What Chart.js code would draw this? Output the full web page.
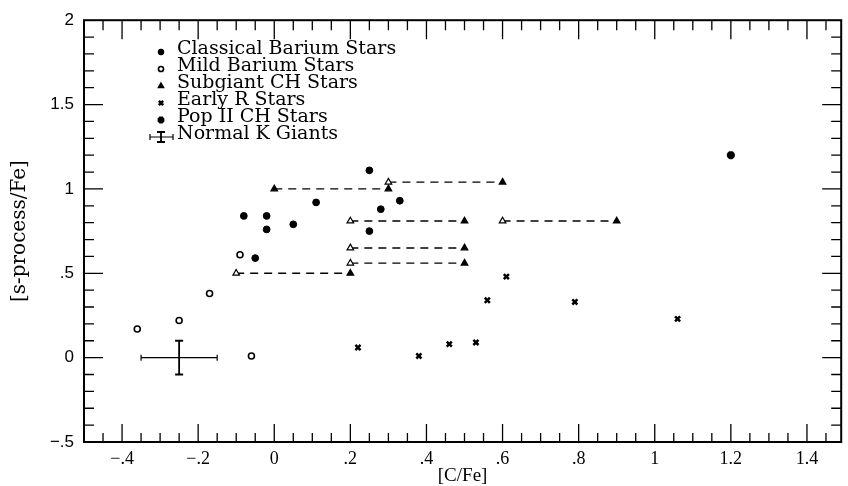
<!DOCTYPE html>
<html>
<head>
<meta charset="utf-8">
<script src="https://cdn.jsdelivr.net/npm/chart.js@4.4.0/dist/chart.umd.min.js"></script>
<style>
html, body { margin: 0; padding: 0; background: #fff; }
#wrap { width: 848px; height: 486px; }
</style>
</head>
<body>
<div id="wrap"><canvas id="myChart"></canvas></div>
<script>
// values: [C/Fe], [s-process/Fe]
var classicalBarium = [[0.25, 1.11], [0.11, 0.92], [0.33, 0.93], [0.28, 0.88], [-0.08, 0.84],
                       [-0.02, 0.84], [-0.02, 0.76], [0.05, 0.79], [0.25, 0.75], [-0.05, 0.59]];
var mildBarium = [[-0.09, 0.61], [-0.36, 0.17], [-0.25, 0.22], [-0.17, 0.38], [-0.06, 0.01]];
var earlyR = [[0.61, 0.48], [0.56, 0.34], [0.79, 0.33], [1.06, 0.23],
              [0.22, 0.06], [0.38, 0.01], [0.46, 0.08], [0.53, 0.09]];
var popIICH = [[1.20, 1.20]];

// subgiant CH stars: two [C/Fe] estimates joined by a dashed line
var subgiantLeftX   = [0.30, 0.00, 0.20, 0.60, 0.20, 0.20, -0.10];
var subgiantRightX  = [0.60, 0.30, 0.50, 0.90, 0.50, 0.50, 0.20];
var subgiantY       = [1.04, 1.00, 0.81, 0.81, 0.65, 0.56, 0.50];
var subgiantLeftFilled = [false, true, false, false, false, false, false];

// normal K giants: mean and error bar
var normalK    = [-0.25, 0.00];
var normalKErr = [0.10, 0.10];

var legendLabels = ['Classical Barium Stars', 'Mild Barium Stars', 'Subgiant CH Stars',
                    'Early R Stars', 'Pop II CH Stars', 'Normal K Giants'];

var xTickValues = [-0.4, -0.2, 0, 0.2, 0.4, 0.6, 0.8, 1, 1.2, 1.4];
var xTickLabels = ['\u2212.4', '\u2212.2', '0', '.2', '.4', '.6', '.8', '1', '1.2', '1.4'];
var yTickValues = [-0.5, 0, 0.5, 1, 1.5, 2];
var yTickLabels = ['\u2212.5', '0', '.5', '1', '1.5', '2'];

function toPoints(arr) {
    return arr.map(function(p) { return { x: p[0], y: p[1] }; });
}

var markerStyles = [
    { pointStyle: 'circle',   radius: 3.4, borderWidth: 1,   fill: '#000' },
    { pointStyle: 'circle',   radius: 3.0, borderWidth: 1.6, fill: '#fff' },
    { pointStyle: 'triangle', radius: 3.8, borderWidth: 1.2, fill: '#000' },
    { pointStyle: 'crossRot', radius: 3.6, borderWidth: 2.5, fill: '#000' },
    { pointStyle: 'star',     radius: 4.0, borderWidth: 2.8, fill: '#000' }
];

var datasets = [];

for (var i = 0; i < subgiantY.length; i++) {
    datasets.push({
        label: 'subgiant' + i,
        data: [{ x: subgiantLeftX[i], y: subgiantY[i] }, { x: subgiantRightX[i], y: subgiantY[i] }],
        showLine: true,
        borderColor: '#000',
        borderWidth: 1.4,
        borderDash: [8, 6],
        pointStyle: 'triangle',
        pointRadius: markerStyles[2].radius,
        pointBorderWidth: markerStyles[2].borderWidth,
        pointBorderColor: '#000',
        pointBackgroundColor: [subgiantLeftFilled[i] ? '#000' : '#fff', '#000']
    });
}

var pointSets = [classicalBarium, mildBarium, null, earlyR, popIICH];
pointSets.forEach(function(set, k) {
    if (!set) return;
    var m = markerStyles[k];
    datasets.push({
        label: legendLabels[k],
        data: toPoints(set),
        showLine: false,
        pointStyle: m.pointStyle,
        pointRadius: m.radius,
        pointBorderWidth: m.borderWidth,
        pointBorderColor: '#000',
        pointBackgroundColor: m.fill
    });
});

var frameAndExtras = {
    id: 'frameAndExtras',
    afterDatasetsDraw: function(chart) {
        var ctx = chart.ctx;
        var a = chart.chartArea;
        var xs = chart.scales.x, ys = chart.scales.y;
        ctx.save();
        ctx.strokeStyle = '#000';
        ctx.fillStyle = '#000';

        // frame
        ctx.lineWidth = 2;
        ctx.strokeRect(a.left, a.top, a.right - a.left, a.bottom - a.top);

        // ticks on all four sides, pointing inward
        ctx.lineWidth = 1.3;
        ctx.beginPath();
        var v, px, big;
        for (v = -0.45; v < 1.49; v += 0.05) {
            px = xs.getPixelForValue(v);
            big = Math.abs(Math.round(v * 5) - v * 5) < 1e-6;
            ctx.moveTo(px, a.bottom); ctx.lineTo(px, a.bottom - (big ? 18 : 9));
            ctx.moveTo(px, a.top);    ctx.lineTo(px, a.top + (big ? 19 : 10));
        }
        for (v = -0.4; v < 2; v += 0.1) {
            px = ys.getPixelForValue(v);
            big = Math.abs(Math.round(v * 2) - v * 2) < 1e-6;
            ctx.moveTo(a.left, px);  ctx.lineTo(a.left + (big ? 19 : 10), px);
            ctx.moveTo(a.right, px); ctx.lineTo(a.right - (big ? 19 : 10), px);
        }
        ctx.stroke();

        // normal K giants error cross
        var cx = xs.getPixelForValue(normalK[0]), cy = ys.getPixelForValue(normalK[1]);
        var x0 = xs.getPixelForValue(normalK[0] - normalKErr[0]);
        var x1 = xs.getPixelForValue(normalK[0] + normalKErr[0]);
        var y0 = ys.getPixelForValue(normalK[1] + normalKErr[1]);
        var y1 = ys.getPixelForValue(normalK[1] - normalKErr[1]);
        drawErrorCross(ctx, cx, cy, x0, x1, y0, y1);

        // legend
        var mx = 161, tx = 177, ty = 49, step = 17;
        ctx.font = '19px "DejaVu Serif"';
        ctx.textBaseline = 'middle';
        ctx.textAlign = 'left';
        for (var k = 0; k < legendLabels.length; k++) {
            var yy = ty + k * step;
            if (k < markerStyles.length) {
                var m = markerStyles[k];
                ctx.fillStyle = m.fill;
                ctx.strokeStyle = '#000';
                ctx.lineWidth = m.borderWidth;
                Chart.helpers.drawPoint(ctx, {
                    pointStyle: m.pointStyle, radius: m.radius * 0.85,
                    borderWidth: m.borderWidth, rotation: 0
                }, mx, yy + 3);
            } else {
                drawErrorCross(ctx, mx, yy + 3, mx - 11, mx + 12, yy - 2, yy + 8);
            }
            ctx.fillStyle = '#000';
            ctx.fillText(legendLabels[k], tx, yy);
        }
        ctx.restore();
    }
};

function drawErrorCross(ctx, cx, cy, x0, x1, y0, y1) {
    ctx.strokeStyle = '#000';
    ctx.beginPath();
    ctx.lineWidth = 1.2;
    ctx.moveTo(x0, cy); ctx.lineTo(x1, cy);
    ctx.moveTo(x0, cy - 3); ctx.lineTo(x0, cy + 3);
    ctx.moveTo(x1, cy - 3); ctx.lineTo(x1, cy + 3);
    ctx.stroke();
    ctx.beginPath();
    ctx.lineWidth = 1.8;
    ctx.moveTo(cx, y0); ctx.lineTo(cx, y1);
    ctx.moveTo(cx - 4, y0); ctx.lineTo(cx + 4, y0);
    ctx.moveTo(cx - 4, y1); ctx.lineTo(cx + 4, y1);
    ctx.stroke();
}

var canvas  = document.getElementById('myChart');
var context = canvas.getContext('2d');

var myChart = new Chart(context, {
    type: 'scatter',
    data: { datasets: datasets },
    options: {
        responsive: true,
        maintainAspectRatio: false,
        animation: false,
        events: [],
        layout: { padding: { top: 20, right: 1, left: 0, bottom: 0 } },
        plugins: {
            legend: { display: false },
            tooltip: { enabled: false }
        },
        scales: {
            x: {
                type: 'linear',
                min: -0.5,
                max: 1.49,
                afterFit: function(scale) { scale.height = 44; },
                afterBuildTicks: function(scale) {
                    scale.ticks = xTickValues.map(function(v) { return { value: v }; });
                },
                grid: { display: false, drawTicks: false },
                border: { display: false },
                ticks: {
                    padding: 6,
                    color: '#000',
                    maxRotation: 0,
                    autoSkip: false,
                    font: { family: '"Liberation Serif"', size: 18 },
                    callback: function(value) {
                        var idx = xTickValues.findIndex(function(t) { return Math.abs(t - value) < 1e-9; });
                        return idx >= 0 ? xTickLabels[idx] : '';
                    }
                },
                title: {
                    display: true,
                    text: '[C/Fe]',
                    color: '#000',
                    font: { family: '"Liberation Serif"', size: 19, lineHeight: 1 },
                    padding: { top: 0, bottom: 0 }
                }
            },
            y: {
                type: 'linear',
                min: -0.5,
                max: 2,
                afterFit: function(scale) { scale.width = 84; },
                afterBuildTicks: function(scale) {
                    scale.ticks = yTickValues.map(function(v) { return { value: v }; });
                },
                grid: { display: false, drawTicks: false },
                border: { display: false },
                ticks: {
                    padding: 10,
                    color: '#000',
                    autoSkip: false,
                    font: { family: '"Liberation Sans"', size: 17 },
                    callback: function(value) {
                        var idx = yTickValues.findIndex(function(t) { return Math.abs(t - value) < 1e-9; });
                        return idx >= 0 ? yTickLabels[idx] : '';
                    }
                },
                title: {
                    display: true,
                    text: '[s-process/Fe]',
                    color: '#000',
                    font: { family: '"DejaVu Serif"', size: 20 },
                    padding: { top: 8, bottom: 0 }
                }
            }
        }
    },
    plugins: [frameAndExtras]
});
</script>
</body>
</html>
